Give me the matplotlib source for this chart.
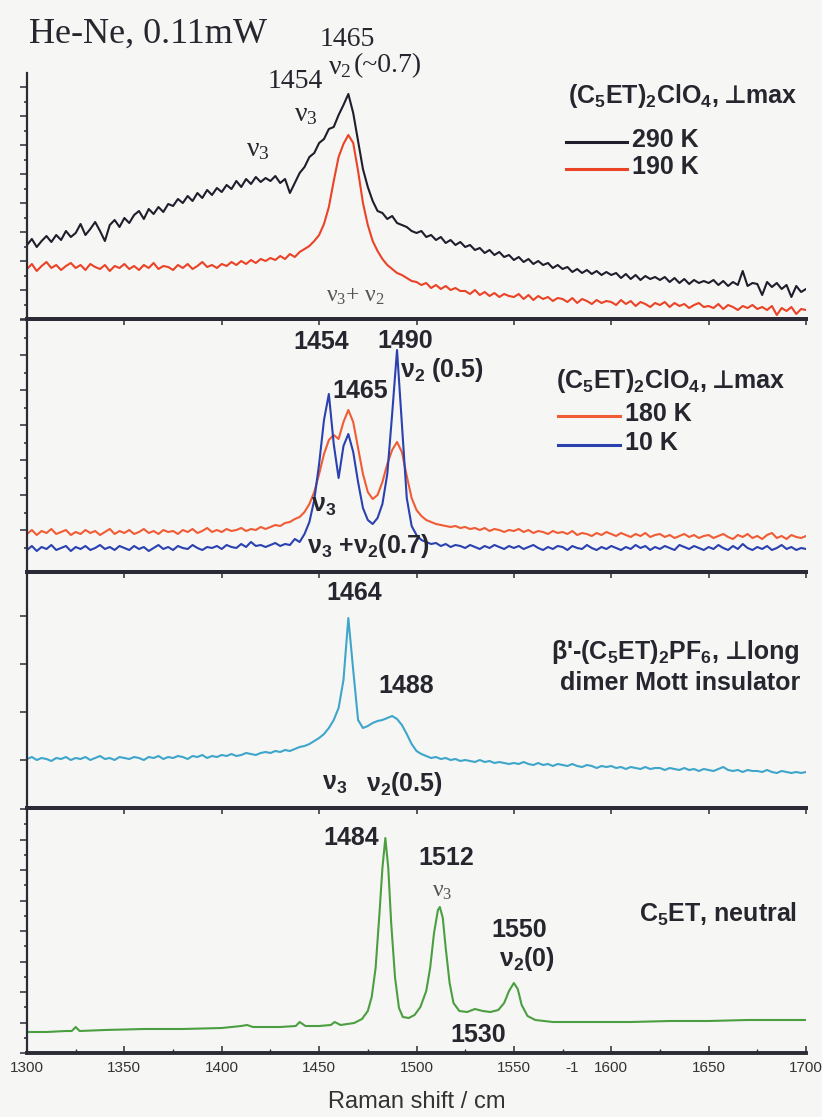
import numpy as np
import matplotlib.pyplot as plt
from matplotlib.ticker import MultipleLocator

plt.rcParams['mathtext.default'] = 'regular'

W, H = 822, 1117
SERIF = 'Liberation Serif'
SANS = ['Liberation Sans', 'DejaVu Sans']
INK = '#26262f'

# Raman shift axis, 2.5 cm-1 steps
shift = np.linspace(1300, 1700, 161)

# (C5ET)2ClO4, perpendicular max, He-Ne 0.11 mW
i_290K = [74, 80, 72, 78, 83, 77, 84, 79, 88, 82,
          86, 95, 84, 90, 97, 88, 78, 94, 99, 92,
          101, 96, 104, 108, 100, 110, 105, 112, 107, 115,
          113, 120, 116, 123, 118, 126, 121, 129, 124, 131,
          127, 134, 130, 138, 132, 140, 135, 142, 137, 141,
          138, 143, 136, 140, 126, 136, 146, 152, 162, 166,
          176, 180, 190, 192, 204, 214, 225, 206, 178, 150,
          132, 118, 108, 106, 100, 103, 96, 94, 92, 88,
          86, 88, 82, 84, 79, 82, 76, 79, 74, 77,
          72, 74, 69, 71, 66, 69, 64, 67, 62, 64,
          59, 62, 57, 60, 55, 58, 54, 56, 51, 54,
          50, 52, 47, 50, 46, 49, 45, 48, 44, 47,
          44, 46, 41, 45, 40, 44, 39, 43, 40, 42,
          39, 42, 37, 41, 36, 40, 35, 39, 36, 38,
          36, 39, 34, 38, 33, 37, 34, 48, 33, 36,
          35, 24, 37, 32, 36, 30, 34, 22, 33, 27,
          30]
i_190K = [50, 55, 48, 53, 57, 51, 54, 49, 53, 56,
          51, 54, 49, 55, 52, 50, 54, 48, 53, 51,
          55, 50, 53, 49, 54, 51, 56, 50, 53, 52,
          49, 54, 51, 55, 50, 53, 57, 52, 54, 51,
          55, 53, 57, 54, 58, 55, 59, 56, 60, 58,
          61, 59, 63, 60, 65, 62, 67, 70, 73, 78,
          84, 95, 112, 138, 162, 175, 184, 176, 148, 116,
          94, 78, 68, 60, 54, 50, 46, 44, 41, 38,
          37, 34, 36, 31, 34, 30, 33, 29, 31, 28,
          28, 25, 29, 24, 27, 23, 26, 22, 25, 23,
          22, 25, 20, 24, 19, 23, 20, 22, 18, 21,
          20, 17, 21, 16, 20, 18, 15, 19, 16, 18,
          17, 14, 19, 15, 18, 13, 17, 15, 12, 16,
          14, 17, 12, 16, 13, 15, 11, 14, 16, 12,
          13, 11, 15, 10, 14, 12, 9, 13, 11, 14,
          10, 12, 9, 13, 4, 11, 8, 12, 5, 10,
          9]
i_180K = [38, 42, 37, 41, 39, 43, 38, 40, 42, 37,
          40, 38, 42, 39, 41, 37, 40, 43, 38, 41,
          39, 42, 38, 40, 43, 39, 41, 38, 42, 40,
          41, 38, 42, 40, 43, 39, 41, 44, 40, 42,
          40, 43, 41, 42, 44, 41, 43, 42, 45, 43,
          45, 47, 46, 49, 50, 53, 55, 60, 68, 80,
          98, 118, 132, 137, 133, 150, 162, 150, 124, 98,
          80, 73, 77, 90, 108, 122, 130, 120, 96, 74,
          62, 56, 52, 50, 48, 47, 46, 45, 46, 44,
          45, 43, 44, 42, 44, 41, 43, 42, 40, 42,
          41, 43, 40, 42, 39, 41, 40, 38, 41, 39,
          40, 38, 41, 37, 39, 38, 36, 39, 37, 40,
          38, 36, 39, 37, 35, 38, 36, 39, 35, 37,
          38, 35, 37, 34, 36, 38, 35, 37, 34, 36,
          37, 34, 36, 38, 35, 33, 37, 35, 38, 34,
          36, 33, 37, 39, 34, 36, 33, 37, 35, 34,
          36]
i_10K = [22, 26, 21, 25, 23, 27, 22, 24, 26, 21,
         25, 23, 26, 22, 24, 27, 23, 25, 22, 26,
         24, 22, 26, 23, 25, 21, 24, 27, 23, 25,
         22, 26, 24, 23, 27, 24, 22, 25, 24, 26,
         23, 27, 25, 24, 28, 25, 30, 26, 27, 25,
         27, 29, 26, 28, 27, 33, 30, 38, 50, 72,
         108, 152, 178, 128, 94, 126, 138, 120, 90, 64,
         52, 48, 54, 68, 98, 158, 222, 148, 74, 46,
         37, 32, 30, 28, 29, 26, 28, 25, 27, 26,
         24, 27, 25, 23, 26, 24, 27, 25, 23, 26,
         24, 26, 23, 25, 27, 24, 22, 25, 23, 26,
         25, 22, 26, 24, 23, 27, 24, 22, 25, 23,
         26, 24, 22, 25, 23, 27, 24, 26, 22, 25,
         23, 26, 24, 22, 27, 25, 23, 26, 24, 22,
         25, 23, 27, 24, 22, 26, 23, 28, 24, 22,
         25, 23, 26, 22, 24, 27, 23, 25, 22, 24,
         23]

# beta'-(C5ET)2PF6, perpendicular long axis (dimer Mott insulator)
i_pf6 = [49, 51, 48, 50, 49, 47, 50, 49, 51, 48,
         50, 49, 51, 48, 50, 52, 49, 50, 48, 51,
         50, 49, 51, 50, 48, 51, 50, 52, 49, 51,
         50, 52, 51, 49, 52, 51, 53, 50, 52, 51,
         53, 52, 54, 52, 53, 55, 54, 53, 55, 56,
         55, 57, 56, 58, 57, 59, 61, 62, 64, 67,
         70, 74, 80, 88, 100, 128, 190, 138, 88, 80,
         82, 85, 87, 88, 90, 92, 89, 83, 74, 64,
         57, 54, 52, 50, 51, 49, 50, 48, 49, 47,
         48, 47, 46, 48, 46, 47, 45, 46, 45, 44,
         45, 44, 46, 44, 43, 45, 43, 44, 42, 44,
         43, 42, 44, 42, 41, 43, 42, 40, 42, 41,
         42, 40, 41, 39, 41, 40, 39, 41, 39, 40,
         40, 38, 40, 39, 38, 40, 38, 39, 37, 39,
         38, 37, 39, 41, 38, 37, 38, 36, 38, 37,
         37, 36, 38, 36, 35, 37, 36, 35, 36, 35,
         36]

# neutral C5ET
shift_neutral = [1300, 1310, 1320, 1323, 1325, 1327, 1340, 1360, 1380, 1400,
                 1410, 1413, 1416, 1430, 1438, 1440, 1443, 1450, 1456, 1458,
                 1461, 1468, 1472, 1475, 1477, 1479, 1481, 1482.5, 1484, 1485.5,
                 1487, 1489, 1491, 1493, 1496, 1499, 1502, 1505, 1507, 1509,
                 1511, 1512, 1513.5, 1515, 1517, 1519, 1522, 1526, 1530, 1534,
                 1538, 1542, 1545, 1547.5, 1550, 1552, 1554, 1557, 1561, 1570,
                 1590, 1610, 1630, 1650, 1670, 1690, 1700]
i_neutral = [21, 21, 22, 22, 26, 22, 23, 24, 24, 25,
             27, 28, 26, 26, 27, 31, 27, 27, 28, 31,
             28, 30, 34, 42, 56, 85, 140, 185, 215, 185,
             130, 75, 45, 36, 35, 38, 46, 62, 85, 120,
             143, 146, 135, 105, 70, 50, 42, 41, 44, 42,
             41, 43, 50, 62, 70, 64, 48, 37, 33, 31,
             31, 31, 32, 32, 33, 33, 33]

tick_values = [1300, 1350, 1400, 1450, 1500, 1550, 1600, 1650, 1700]
tick_labels = ['1300', '1350', '1400', '1450', '1500', '1550', '1600', '1650', '1700']

fig = plt.figure(figsize=(W / 100, H / 100), dpi=100, facecolor='#f6f6f5')


def panel(top, bottom):
    return fig.add_axes([27 / W, 1 - bottom / H, 779 / W, (bottom - top) / H])


def ftext(px, py, s, **kw):
    kw.setdefault('ha', 'center')
    kw.setdefault('va', 'center')
    kw.setdefault('color', INK)
    return fig.text(px / W, 1 - py / H, s, **kw)


def key(px0, px1, py, line, label):
    fig.add_artist(plt.Line2D([px0 / W, px1 / W], [1 - py / H] * 2,
                              color=line.get_color(), lw=2.2,
                              transform=fig.transFigure))
    ftext(px1 + 5, py - 2, label, ha='left', fontsize=18,
          fontweight='bold', family=SANS)


def perp(ax, after, s):
    # the perpendicular sign is not in Liberation Sans, so it goes in its own text
    ax.annotate(s, xy=(1, 0.5), xycoords=after, xytext=(4, 0),
                textcoords='offset points', ha='left', va='center',
                color=INK, **bold)


ax1 = panel(73, 319)
ax2 = panel(319, 572)
ax3 = panel(572, 808)
ax4 = panel(808, 1053)
axes = [ax1, ax2, ax3, ax4]

for ax in axes:
    ax.set_xlim(1300, 1700)
    ax.set_facecolor('none')
    ax.spines['right'].set_visible(False)
    ax.spines['left'].set_linewidth(1.6)
    for s in ('left', 'top', 'bottom'):
        ax.spines[s].set_color('#2b2b36')
    ax.spines['top'].set_linewidth(2.8)
    ax.spines['bottom'].set_linewidth(2.8)
    ax.set_xticks(tick_values)
    ax.tick_params(axis='y', which='both', direction='out', left=True,
                   labelleft=False, color='#2b2b36', width=1.1)
    ax.tick_params(axis='y', which='major', length=5)
    ax.tick_params(axis='y', which='minor', length=2.5)
    ax.tick_params(axis='x', which='both', top=False)

ax1.spines['top'].set_visible(False)
for ax in axes[:3]:
    ax.tick_params(axis='x', which='major', direction='out', length=4,
                   width=1.1, labelbottom=False, color='#2b2b36')

# top: (C5ET)2ClO4 at 290 K and 190 K
l290, = ax1.plot(shift, i_290K, color='#1e1e2c', lw=1.5)
l190, = ax1.plot(shift, i_190K, color='#ea4326', lw=1.5)
ax1.set_ylim(0, 246)
ax1.yaxis.set_major_locator(MultipleLocator(29))
ax1.yaxis.set_minor_locator(MultipleLocator(14.5))

# second: (C5ET)2ClO4 at 180 K and 10 K
l180, = ax2.plot(shift, i_180K, color='#f05c34', lw=1.5)
l10, = ax2.plot(shift, i_10K, color='#2a41b0', lw=1.5)
ax2.set_ylim(0, 253)
ax2.set_yticks([42, 77, 112, 147, 182, 217, 252])
ax2.set_yticks([24.5, 59.5, 94.5, 129.5, 164.5, 199.5, 234.5], minor=True)

# third: beta'-(C5ET)2PF6
ax3.plot(shift, i_pf6, color='#3ea6ca', lw=1.5)
ax3.set_ylim(0, 236)
ax3.set_yticks([48, 96, 144, 192])

# bottom: neutral C5ET
ax4.plot(shift_neutral, i_neutral, color='#4b9f40', lw=1.5)
ax4.set_ylim(0, 245)
ax4.yaxis.set_major_locator(MultipleLocator(30.5))
ax4.yaxis.set_minor_locator(MultipleLocator(15.25))
ax4.xaxis.set_minor_locator(MultipleLocator(25))
ax4.set_xticklabels(tick_labels, family=SANS, fontsize=11, color='#333333')
ax4.tick_params(axis='x', which='major', direction='in', length=5, width=1.1,
                pad=6, color='#2b2b36')
ax4.tick_params(axis='x', which='minor', direction='in', length=3, width=1.0,
                color='#2b2b36')
ax4.set_xlabel('Raman shift / cm', family=SANS, fontsize=17, color='#333333',
               labelpad=11)
ax4.text(1580, -0.06, '-1', transform=ax4.get_xaxis_transform(), ha='center',
         va='center', family=SANS, fontsize=11, color='#333333')

# panel 1 annotations (serif)
ftext(29, 43, 'He-Ne, 0.11mW', ha='left', va='baseline', family=SERIF,
      fontsize=26)
ser = dict(family=SERIF, fontsize=20)
ftext(347, 39, '1465', **ser)
ftext(340, 68, 'ν$_2$', **ser)
ftext(388, 66, '(~0.7)', **ser)
ftext(295, 82, '1454', **ser)
ftext(306, 115, 'ν$_3$', **ser)
ftext(258, 150, 'ν$_3$', **ser)
ftext(356, 296, 'ν$_3$+ ν$_2$', family=SERIF, fontsize=17, color='#555555')

bold = dict(family=SANS, fontsize=18, fontweight='bold')
t = ftext(568, 96, '(C$_5$ET)$_2$ClO$_4$,', ha='left', **bold)
perp(ax1, t, '⊥max')
key(566, 627, 142, l290, '290 K')
key(566, 627, 169, l190, '190 K')

# panel 2 annotations
ftext(321, 342, '1454', **bold)
ftext(405, 341, '1490', **bold)
ftext(360, 391, '1465', **bold)
ftext(442, 370, 'ν$_2$ (0.5)', **bold)
ftext(324, 506, 'ν$_3$', **bold)
ftext(368, 546, 'ν$_3$ +ν$_2$(0.7)', **bold)
t = ftext(556, 381, '(C$_5$ET)$_2$ClO$_4$,', ha='left', **bold)
perp(ax2, t, '⊥max')
key(558, 620, 416, l180, '180 K')
key(558, 620, 445, l10, '10 K')

# panel 3 annotations
ftext(354, 593, '1464', **bold)
ftext(406, 686, '1488', **bold)
ftext(335, 784, 'ν$_3$', **bold)
ftext(404, 784, 'ν$_2$(0.5)', **bold)
t = ftext(800, 652, '⊥long', ha='right', **bold)
ax3.annotate("β'-(C$_5$ET)$_2$PF$_6$,", xy=(0, 0.5), xycoords=t,
             xytext=(-4, 0), textcoords='offset points', ha='right',
             va='center', color=INK, **bold)
ftext(800, 683, 'dimer Mott insulator', ha='right', **bold)

# panel 4 annotations
ftext(351, 838, '1484', **bold)
ftext(446, 858, '1512', **bold)
ftext(442, 892, 'ν$_3$', family=SERIF, fontsize=17, color='#555555')
ftext(519, 930, '1550', **bold)
ftext(527, 959, 'ν$_2$(0)', **bold)
ftext(478, 1035, '1530', **bold)
ftext(797, 914, 'C$_5$ET, neutral', ha='right', **bold)

fig.savefig('out.png', dpi=100, facecolor=fig.get_facecolor())
